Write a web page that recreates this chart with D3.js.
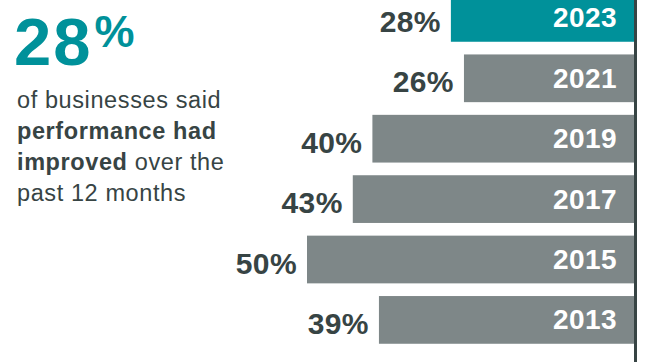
<!DOCTYPE html>
<html>
<head>
<meta charset="utf-8">
<script src="https://cdn.jsdelivr.net/npm/d3@7"></script>
<style>
  html, body { margin: 0; padding: 0; background: #fff; }
  svg { display: block; font-family: "Liberation Sans", Arial, Helvetica, sans-serif; }
</style>
</head>
<body>
<script>
// survey years, newest first
var years = ["2023", "2021", "2019", "2017", "2015", "2013"];
// share of businesses saying performance improved (%)
var values = [28, 26, 40, 43, 50, 39];
var highlightYear = "2023";

var headline = "28";
var introLines = [
  [{t: "of businesses said", b: false}],
  [{t: "performance had", b: true}],
  [{t: "improved", b: true}, {t: " over the", b: false}],
  [{t: "past 12 months", b: false}]
];

var width = 647, height = 362;
var teal = "#00919a", grey = "#7e8788", dark = "#374444";

var data = years.map(function(y, i) { return {year: y, value: values[i]}; });

var svg = d3.select("body").append("svg")
    .attr("width", width)
    .attr("height", height);

// bars grow leftward from the baseline at the right edge
var x = d3.scaleLinear()
    .domain([0, 50])
    .range([634, 307]);

var y = d3.scaleBand()
    .domain(years)
    .range([-12.3, 350.1])
    .paddingInner(0.21)
    .paddingOuter(0.105);

svg.selectAll(".bar")
    .data(data)
  .enter().append("rect")
    .attr("class", "bar")
    .attr("x", function(d) { return x(d.value); })
    .attr("y", function(d) { return y(d.year); })
    .attr("width", function(d) { return x(0) - x(d.value); })
    .attr("height", y.bandwidth())
    .attr("fill", function(d) { return d.year === highlightYear ? teal : grey; });

// year inside the bar
svg.selectAll(".year")
    .data(data)
  .enter().append("text")
    .attr("class", "year")
    .attr("x", x(0) - 17)
    .attr("y", function(d) { return y(d.year) + y.bandwidth() / 2 + 9.5; })
    .attr("text-anchor", "end")
    .attr("fill", "#fff")
    .style("font-size", "28px")
    .style("font-weight", "bold")
    .style("letter-spacing", "0.4px")
    .text(function(d) { return d.year; });

// value to the left of the bar
svg.selectAll(".val")
    .data(data)
  .enter().append("text")
    .attr("class", "val")
    .attr("x", function(d) { return x(d.value) - 10; })
    .attr("y", function(d) { return y(d.year) + y.bandwidth() / 2 + 14; })
    .attr("text-anchor", "end")
    .attr("fill", dark)
    .style("font-size", "30px")
    .style("font-weight", "bold")
    .style("letter-spacing", "0.4px")
    .text(function(d) { return d.value + "%"; });

// baseline
svg.append("line")
    .attr("x1", x(0) + 1.5).attr("x2", x(0) + 1.5)
    .attr("y1", 0).attr("y2", height)
    .attr("stroke", dark)
    .attr("stroke-width", 3);

// headline figure
var head = svg.append("text")
    .attr("x", 14)
    .attr("y", 65)
    .attr("fill", teal)
    .style("font-weight", "bold");
head.append("tspan")
    .style("font-size", "67px")
    .style("letter-spacing", "2px")
    .text(headline);
head.append("tspan")
    .attr("dx", 2)
    .attr("dy", -18)
    .style("font-size", "45px")
    .text("%");

// intro text
var intro = svg.append("g");
introLines.forEach(function(line, i) {
  var t = intro.append("text")
      .attr("x", 17)
      .attr("y", 108 + i * 31)
      .attr("fill", dark)
      .style("font-size", "23.5px")
      .style("letter-spacing", "0.6px");
  line.forEach(function(part) {
    t.append("tspan")
      .style("font-weight", part.b ? "bold" : "normal")
      .text(part.t);
  });
});
</script>
</body>
</html>
